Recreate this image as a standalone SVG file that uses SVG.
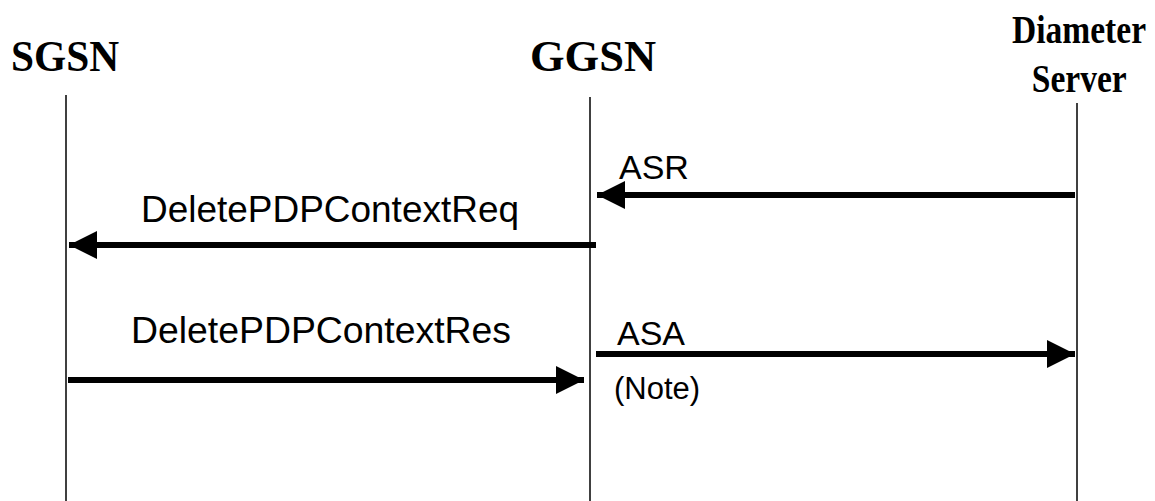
<svg xmlns="http://www.w3.org/2000/svg" width="1155" height="501" viewBox="0 0 1155 501">
<style>
.hd{font-family:"Liberation Serif","Times New Roman",serif;font-weight:bold;fill:#000}
.lb{font-family:"Liberation Sans",Arial,sans-serif;fill:#000}
.life{stroke:#000;stroke-width:1.5;fill:none}
.msg{stroke:#000;stroke-width:6;fill:none}
</style>
<defs>
<marker id="ah" viewBox="0 0 28 28" refX="28" refY="14" markerWidth="28" markerHeight="28" markerUnits="userSpaceOnUse" orient="auto">
<path d="M0,0 L28,14 L0,28 Z" fill="#000"/>
</marker>
</defs>
<rect width="1155" height="501" fill="#fff"/>
<g id="sgsn">
<text class="hd" x="11" y="71" font-size="45" textLength="108" lengthAdjust="spacingAndGlyphs">SGSN</text>
<line class="life" x1="66" y1="95" x2="66" y2="501"/>
</g>
<g id="ggsn">
<text class="hd" x="530" y="71" font-size="45" textLength="126" lengthAdjust="spacingAndGlyphs">GGSN</text>
<line class="life" x1="590" y1="97" x2="590" y2="501"/>
</g>
<g id="diameter">
<g transform="translate(1012,0) scale(0.86,1)">
<text class="hd" x="0" y="43" font-size="39">Diameter</text>
<text class="hd" x="23" y="92" font-size="39">Server</text>
</g>
<line class="life" x1="1077" y1="103" x2="1077" y2="501"/>
</g>
<g id="connectors">
<line class="msg" x1="1075" y1="195" x2="597" y2="195" marker-end="url(#ah)"/>
<text class="lb" x="619" y="179" font-size="34">ASR</text>
<line class="msg" x1="596" y1="245" x2="69" y2="245" marker-end="url(#ah)"/>
<text class="lb" x="141" y="222" font-size="36" textLength="378" lengthAdjust="spacingAndGlyphs">DeletePDPContextReq</text>
<line class="msg" x1="596" y1="354" x2="1075" y2="354" marker-end="url(#ah)"/>
<text class="lb" x="617" y="345" font-size="34">ASA</text>
<text class="lb" x="614" y="399" font-size="31">(Note)</text>
<line class="msg" x1="68" y1="380" x2="584" y2="380" marker-end="url(#ah)"/>
<text class="lb" x="131" y="343" font-size="36" textLength="380" lengthAdjust="spacingAndGlyphs">DeletePDPContextRes</text>
</g>
</svg>
